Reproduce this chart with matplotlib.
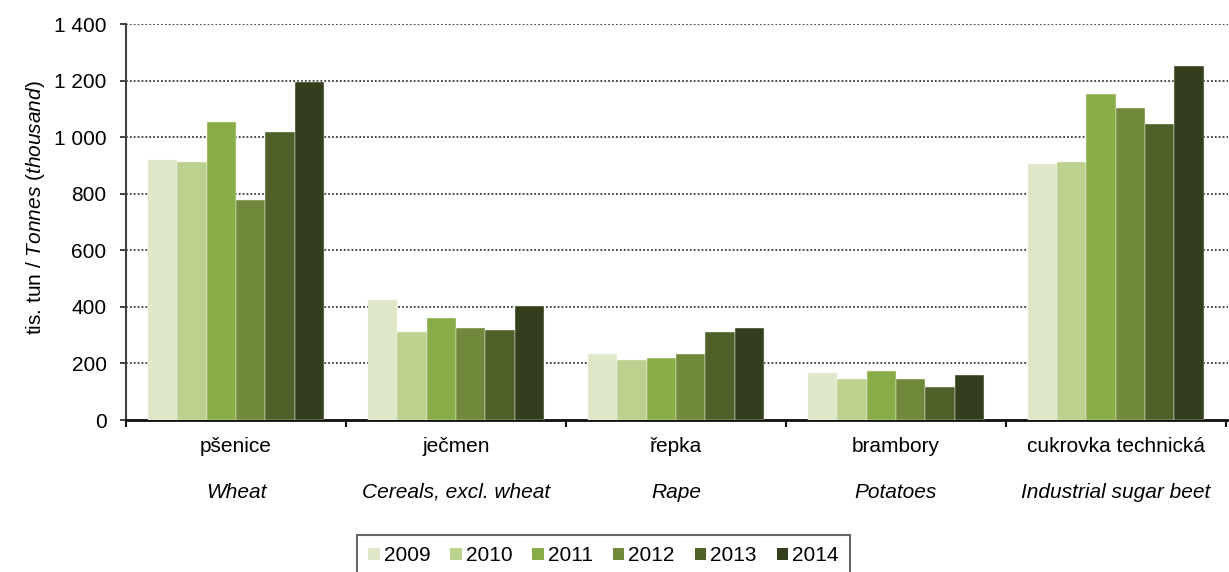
import matplotlib
matplotlib.use("Agg")
import matplotlib.pyplot as plt
from matplotlib.ticker import FuncFormatter
import numpy as np

plt.rcParams['font.family'] = ['Liberation Sans', 'DejaVu Sans']
plt.rcParams['mathtext.fontset'] = 'custom'
plt.rcParams['mathtext.it'] = 'Liberation Sans:italic'
plt.rcParams['mathtext.rm'] = 'Liberation Sans'

categories_cz = ["pšenice", "ječmen", "řepka", "brambory", "cukrovka technická"]
categories_en = ["Wheat", "Cereals, excl. wheat", "Rape", "Potatoes", "Industrial sugar beet"]
years = ["2009", "2010", "2011", "2012", "2013", "2014"]
values = {
    "2009": [918, 424, 234, 165, 905],
    "2010": [911, 312, 213, 144, 912],
    "2011": [1052, 360, 220, 172, 1152],
    "2012": [778, 326, 234, 144, 1102],
    "2013": [1017, 319, 312, 116, 1045],
    "2014": [1194, 404, 326, 158, 1250],
}
colors = ["#dfe7c9", "#bbd18d", "#8aac48", "#71893a", "#4f6129", "#333f1c"]
yticks = [0, 200, 400, 600, 800, 1000, 1200, 1400]

W, H = 1229, 572
fig = plt.figure(figsize=(W / 100, H / 100), dpi=100)
ax = fig.add_axes([126 / W, (H - 420) / H, (1228 - 126) / W, 396 / H])

x = np.arange(len(categories_cz))
n = len(years)
bw = 0.8 / n
for i, (yr, c) in enumerate(zip(years, colors)):
    ax.bar(x - 0.4 + bw * (i + 0.5), values[yr], width=bw, color=c,
           edgecolor="#f4f7ee", linewidth=0.3, label=yr, zorder=3)

ax.set_xlim(-0.5, len(categories_cz) - 0.5 + 0.01)
ax.set_ylim(0, 1400)
ax.set_yticks(yticks)
ax.yaxis.set_major_formatter(FuncFormatter(lambda v, p: f"{int(v):,}".replace(",", " ")))
ax.set_xticks(np.arange(-0.5, len(categories_cz), 1.0))
ax.set_xticklabels([])

ax.grid(axis="y", linestyle=(0, (0.9, 1.1)), color="#444444", linewidth=1.4, zorder=0)
for s in ["top", "right"]:
    ax.spines[s].set_visible(False)
ax.spines["left"].set_color("#404040")
ax.spines["left"].set_linewidth(1.5)
ax.spines["bottom"].set_color("#111111")
ax.spines["bottom"].set_linewidth(2.0)
ax.tick_params(axis="y", direction="out", length=4, width=1.4, color="#404040",
               labelsize=15, pad=10)
ax.tick_params(axis="x", direction="out", length=5, width=1.5, color="#111111")

for xi, cz, en in zip(x, categories_cz, categories_en):
    ax.text(xi, (420 - 447) / 396, cz, transform=ax.get_xaxis_transform(),
            ha="center", va="center", fontsize=15)
    ax.text(xi, (420 - 492) / 396, en, transform=ax.get_xaxis_transform(),
            ha="center", va="center", fontsize=15, style="italic")

fig.text(36 / W, 1 - 208 / H, r"tis. tun / $\mathit{Tonnes\ (thousand)}$",
         rotation=90, ha="center", va="center", fontsize=15)

leg = fig.legend(loc="upper center", bbox_to_anchor=(603.5 / W, 1 - 535 / H),
                 ncol=6, fontsize=15, frameon=True, fancybox=False,
                 handlelength=0.55, handleheight=0.55, handletextpad=0.2,
                 columnspacing=0.95, borderpad=0.55, borderaxespad=0)
leg.get_frame().set_edgecolor("#404040")
leg.get_frame().set_linewidth(1.5)
for h in leg.legend_handles:
    h.set_linewidth(0)

fig.savefig("out.png", dpi=100)
